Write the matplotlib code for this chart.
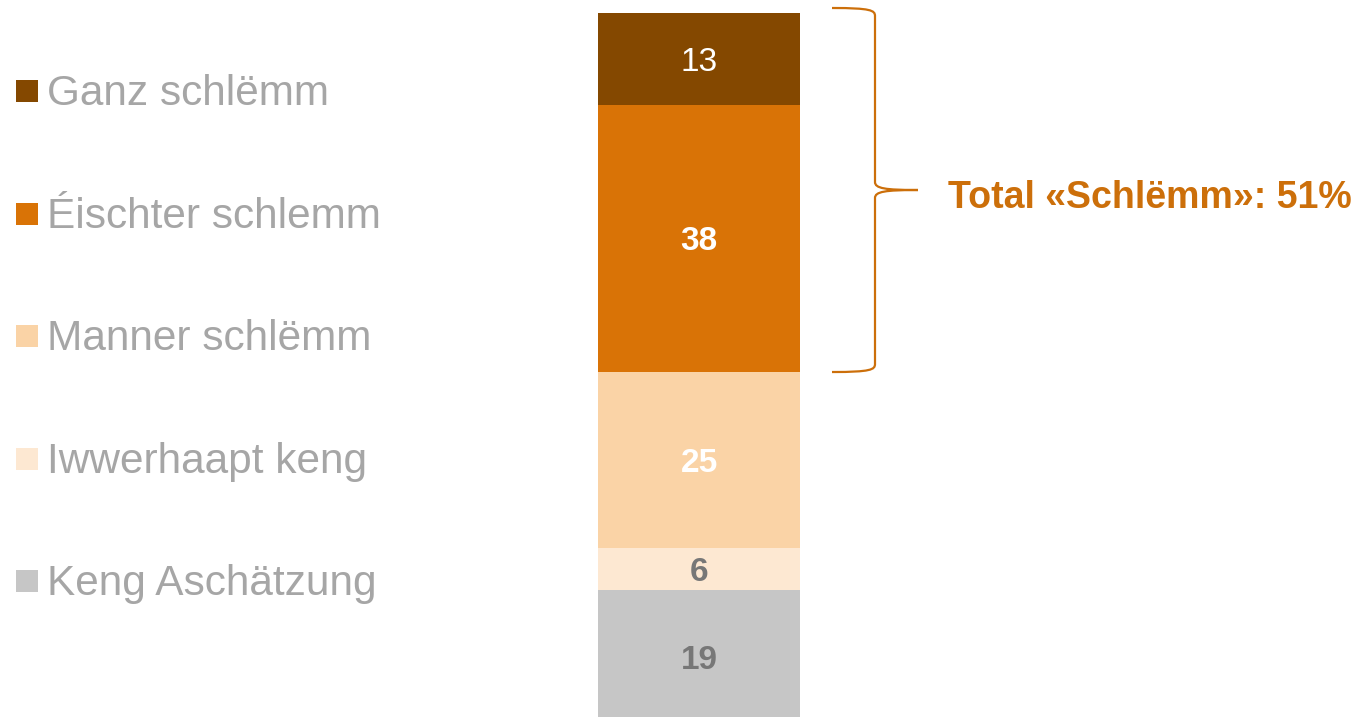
import matplotlib
matplotlib.use("Agg")
import matplotlib.pyplot as plt
from matplotlib.path import Path
from matplotlib.patches import PathPatch, Rectangle

plt.rcParams['font.family'] = ['Liberation Sans', 'DejaVu Sans']

# ---- data (top to bottom in the stack) ----
categories = ["Ganz schlëmm", "Éischter schlemm", "Manner schlëmm", "Iwwerhaapt keng", "Keng Aschätzung"]
values = [13, 38, 25, 6, 19]
colors = ["#844800", "#D97306", "#FAD3A6", "#FDE8D2", "#C6C6C6"]
label_colors = ["white", "white", "white", "#777777", "#777777"]
label_weights = ["normal", "bold", "bold", "bold", "bold"]
bracket_count = 2          # first two categories form the "Schlëmm" total
bracket_label = "Total «Schlëmm»: 51%"
accent = "#CC6F0A"

W, H = 1358, 717
fig = plt.figure(figsize=(W / 100, H / 100), dpi=100)

total = sum(values)
bar_px = 711
ax = fig.add_axes([0, (H - 13 - bar_px) / H, 1, bar_px / H])
ax.set_xlim(0, W)
ax.set_ylim(0, total)
ax.axis('off')

bar_x, bar_w = 699, 202
num_fs = 24
bottom = 0
segs = []
for cat, v, c in zip(reversed(categories), reversed(values), reversed(colors)):
    ax.bar(bar_x, v, width=bar_w, bottom=bottom, color=c, edgecolor='none', clip_on=False)
    segs.append((bottom, v))
    bottom += v
segs = list(reversed(segs))
for (b, v), tc, tw in zip(segs, label_colors, label_weights):
    ax.annotate(f"{v}", (bar_x, b + v / 2), xytext=(0, -0.358 * num_fs),
                textcoords='offset points', ha='center', va='baseline',
                color=tc, fontsize=num_fs, fontweight=tw)

# ---- brace ----
ppu = bar_px / total  # px per unit
top = total + 5 / ppu
bot = total - sum(values[:bracket_count])
mid = (top + bot) / 2
xl, xv, xt = 832, 875, 918
r = 8 / ppu
verts = [
    (xl, top), (xv - 4, top), (xv, top - r * 0.3), (xv, top - r),
    (xv, mid + r),
    (xv, mid + r * 0.2), (xv + 10, mid), (xt, mid),
    (xv + 10, mid), (xv, mid - r * 0.2), (xv, mid - r),
    (xv, bot + r),
    (xv, bot + r * 0.3), (xv - 4, bot), (xl, bot),
]
codes = [Path.MOVETO, Path.CURVE4, Path.CURVE4, Path.CURVE4,
         Path.LINETO,
         Path.CURVE4, Path.CURVE4, Path.CURVE4,
         Path.CURVE4, Path.CURVE4, Path.CURVE4,
         Path.LINETO,
         Path.CURVE4, Path.CURVE4, Path.CURVE4]
ax.add_patch(PathPatch(Path(verts, codes), fill=False, edgecolor=accent, lw=1.6,
                       clip_on=False))
ax.annotate(bracket_label, (948, mid), xytext=(0, -13), textcoords='offset points',
            ha='left', va='baseline', color=accent, fontsize=27, fontweight='bold',
            annotation_clip=False)

# ---- legend (manual) ----
lax = fig.add_axes([0, 0, 1, 1])
lax.set_xlim(0, W)
lax.set_ylim(H, 0)
lax.axis('off')
for i, (cat, c) in enumerate(zip(categories, colors)):
    yc = 91 + i * 122.5
    lax.add_patch(Rectangle((16, yc - 11), 22, 22, facecolor=c, edgecolor='none'))
    lax.text(47, yc + 14, cat, ha='left', va='baseline', color="#A6A6A6", fontsize=30.5)

fig.savefig("out.png", dpi=100)
